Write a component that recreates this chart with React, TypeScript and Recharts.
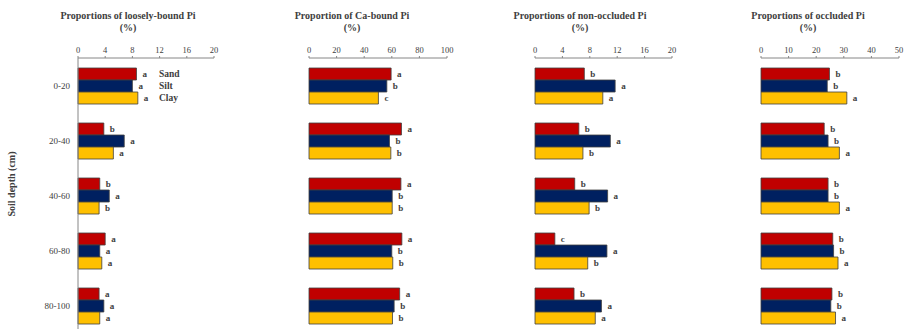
import React from "react";
import { BarChart, Bar, XAxis, YAxis, LabelList } from "recharts";

const DEPTHS = ["0-20", "20-40", "40-60", "60-80", "80-100"];
const SERIES = ["Sand", "Silt", "Clay"];

// loosely-bound Pi (%)
const LOOSE_SAND = [8.6, 3.8, 3.2, 4.0, 3.1];
const LOOSE_SILT = [8.0, 6.8, 4.6, 3.2, 3.8];
const LOOSE_CLAY = [8.8, 5.2, 3.1, 3.5, 3.2];
const LOOSE_SAND_L = ["a", "b", "b", "a", "a"];
const LOOSE_SILT_L = ["a", "a", "a", "a", "a"];
const LOOSE_CLAY_L = ["a", "a", "b", "a", "a"];

// Ca-bound Pi (%)
const CA_SAND = [59.5, 67.0, 66.6, 67.3, 65.7];
const CA_SILT = [56.4, 58.3, 60.3, 60.0, 61.7];
const CA_CLAY = [50.3, 59.3, 60.3, 60.7, 60.5];
const CA_SAND_L = ["a", "a", "a", "a", "a"];
const CA_SILT_L = ["b", "b", "b", "b", "b"];
const CA_CLAY_L = ["c", "b", "b", "b", "b"];

// non-occluded Pi (%)
const NON_SAND = [7.2, 6.4, 5.8, 2.9, 5.7];
const NON_SILT = [11.7, 11.0, 10.6, 10.5, 9.7];
const NON_CLAY = [9.9, 7.0, 7.9, 7.7, 8.8];
const NON_SAND_L = ["b", "b", "b", "c", "b"];
const NON_SILT_L = ["a", "a", "a", "a", "a"];
const NON_CLAY_L = ["a", "b", "b", "b", "a"];

// occluded Pi (%)
const OCC_SAND = [24.8, 22.9, 24.3, 26.0, 25.7];
const OCC_SILT = [24.0, 24.3, 24.3, 26.3, 25.3];
const OCC_CLAY = [31.1, 28.4, 28.4, 27.9, 27.0];
const OCC_SAND_L = ["b", "b", "b", "b", "b"];
const OCC_SILT_L = ["b", "b", "b", "b", "b"];
const OCC_CLAY_L = ["a", "a", "a", "a", "a"];

const TICKS_20 = [0, 4, 8, 12, 16, 20];
const TICKS_100 = [0, 20, 40, 60, 80, 100];
const TICKS_50 = [0, 10, 20, 30, 40, 50];

const RED = "#C00000";
const NAVY = "#002060";
const GOLD = "#FFC000";
const EDGE = "#404040";
const TEXT = "#404040";
const AXIS = "#868686";
const FONT = "'Liberation Serif', 'Times New Roman', serif";

function makeTable(sand: number[], silt: number[], clay: number[], sl: string[], il: string[], cl: string[]) {
  return DEPTHS.map((depth, i) => ({
    depth,
    sand: sand[i],
    silt: silt[i],
    clay: clay[i],
    sandL: sl[i],
    siltL: il[i],
    clayL: cl[i],
  }));
}

function letterLabel(legendName?: string) {
  return (props: any) => {
    const { x, y, width, height, value, index } = props;
    const cy = Number(y) + Number(height) / 2;
    return (
      <g>
        <text x={Number(x) + Number(width) + 6} y={cy} dy="0.35em" fontSize={9} fontWeight="bold" fill={TEXT} fontFamily={FONT}>
          {value}
        </text>
        {legendName && index === 0 ? (
          <text x={Number(x) + 81} y={cy} dy="0.35em" fontSize={9.5} fontWeight="bold" fill={TEXT} fontFamily={FONT}>
            {legendName}
          </text>
        ) : null}
      </g>
    );
  };
}

function Panel({
  table,
  domain,
  ticks,
  left,
  plotWidth,
  showY,
  legend,
}: {
  table: any[];
  domain: [number, number];
  ticks: number[];
  left: number;
  plotWidth: number;
  showY?: boolean;
  legend?: boolean;
}) {
  const yWidth = showY ? 78 : 0;
  const pad = showY ? 0 : 12;
  return (
    <div style={{ position: "absolute", left: left - yWidth - pad, top: 0 }}>
      <BarChart
        width={pad + yWidth + plotWidth + 24}
        height={338}
        data={table}
        layout="vertical"
        margin={{ top: 38, right: 24, bottom: 5, left: pad }}
        barCategoryGap={10}
        barGap={0}
      >
        <XAxis
          type="number"
          orientation="top"
          domain={domain}
          ticks={ticks}
          height={20}
          tickSize={2}
          tickMargin={3}
          tick={{ fill: TEXT, fontSize: 8.5, fontFamily: FONT }}
          axisLine={{ stroke: AXIS }}
          tickLine={{ stroke: AXIS }}
          interval={0}
        />
        <YAxis
          type="category"
          dataKey="depth"
          width={yWidth}
          tick={showY ? { fill: TEXT, fontSize: 9, fontFamily: FONT } : false}
          tickLine={false}
          tickSize={6}
          tickMargin={2}
          axisLine={{ stroke: AXIS }}
        />
        <Bar dataKey="sand" fill={RED} stroke={EDGE} strokeWidth={0.8} isAnimationActive={false}>
          <LabelList dataKey="sandL" content={letterLabel(legend ? SERIES[0] : undefined)} />
        </Bar>
        <Bar dataKey="silt" fill={NAVY} stroke={EDGE} strokeWidth={0.8} isAnimationActive={false}>
          <LabelList dataKey="siltL" content={letterLabel(legend ? SERIES[1] : undefined)} />
        </Bar>
        <Bar dataKey="clay" fill={GOLD} stroke={EDGE} strokeWidth={0.8} isAnimationActive={false}>
          <LabelList dataKey="clayL" content={letterLabel(legend ? SERIES[2] : undefined)} />
        </Bar>
      </BarChart>
    </div>
  );
}

function Title({ text, center }: { text: string; center: number }) {
  return (
    <div
      style={{
        position: "absolute",
        left: center - 110,
        top: 10,
        width: 220,
        textAlign: "center",
        fontSize: 10,
        fontWeight: "bold",
        lineHeight: "12px",
        color: TEXT,
      }}
    >
      <div>{text}</div>
      <div>(%)</div>
    </div>
  );
}

export default function App() {
  const loose = makeTable(LOOSE_SAND, LOOSE_SILT, LOOSE_CLAY, LOOSE_SAND_L, LOOSE_SILT_L, LOOSE_CLAY_L);
  const ca = makeTable(CA_SAND, CA_SILT, CA_CLAY, CA_SAND_L, CA_SILT_L, CA_CLAY_L);
  const non = makeTable(NON_SAND, NON_SILT, NON_CLAY, NON_SAND_L, NON_SILT_L, NON_CLAY_L);
  const occ = makeTable(OCC_SAND, OCC_SILT, OCC_CLAY, OCC_SAND_L, OCC_SILT_L, OCC_CLAY_L);

  return (
    <div
      style={{
        position: "absolute",
        left: 0,
        top: 0,
        width: 904,
        height: 329,
        overflow: "hidden",
        background: "#fff",
        fontFamily: FONT,
      }}
    >
      <Title text="Proportions of loosely-bound Pi" center={128} />
      <Title text="Proportion of Ca-bound Pi" center={352} />
      <Title text="Proportions of non-occluded Pi" center={580} />
      <Title text="Proportions of occluded Pi" center={808} />
      <div
        style={{
          position: "absolute",
          left: 13 - 50,
          top: 184 - 7,
          width: 100,
          height: 14,
          textAlign: "center",
          fontSize: 10,
          fontWeight: "bold",
          color: TEXT,
          transform: "rotate(-90deg)",
          whiteSpace: "nowrap",
        }}
      >
        Soil depth (cm)
      </div>
      <Panel table={loose} domain={[0, 20]} ticks={TICKS_20} left={78} plotWidth={136} showY legend />
      <Panel table={ca} domain={[0, 100]} ticks={TICKS_100} left={309} plotWidth={138} />
      <Panel table={non} domain={[0, 20]} ticks={TICKS_20} left={535} plotWidth={137} />
      <Panel table={occ} domain={[0, 50]} ticks={TICKS_50} left={761} plotWidth={138} />
    </div>
  );
}
